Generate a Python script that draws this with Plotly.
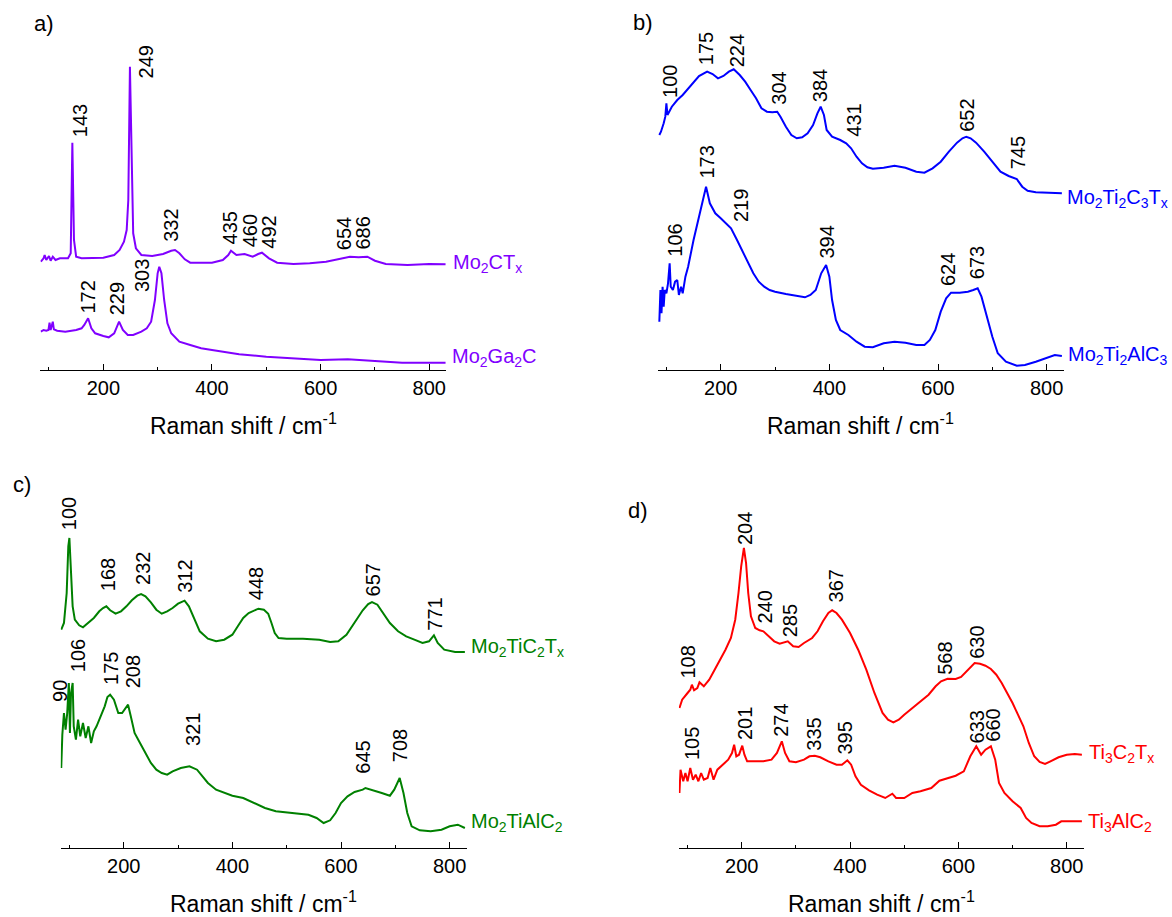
import plotly.graph_objects as go

# ---------------- Raman spectra (shift in cm-1, intensity in a.u. with stacking offset) ----------------
# a) Mo2CTx / Mo2Ga2C
mo2ctx_shift = [85, 90, 92, 95, 100, 103, 107, 112, 120, 135, 140, 143, 146, 150, 160, 180, 200, 220, 230, 238,
                243, 246, 249, 252, 255, 260, 270, 290, 310, 325, 332, 340, 350, 360, 380, 400, 420, 430, 435,
                445, 460, 475, 485, 492, 505, 520, 550, 580, 610, 640, 654, 670, 686, 700, 720, 760, 800, 830]
mo2ctx_int = [108.3, 111.7, 115, 110, 114, 109.3, 113.3, 110, 111.7, 111.7, 116.7, 227.3, 130, 113.3, 111.7,
              111.7, 112.3, 115, 120, 128.3, 140, 170, 303.3, 220, 136.7, 121.7, 115, 114, 116, 119.3, 120,
              116.7, 110.7, 107.3, 107.3, 107.3, 110, 115, 119.3, 115, 116, 113.3, 116, 117.3, 111.7, 107.3,
              106, 106.7, 108.3, 111.7, 113.3, 112.7, 113.3, 109.3, 106, 105, 106, 105.7]

mo2ga2c_shift = [85, 90, 95, 99, 101, 103, 107, 109, 115, 130, 150, 160, 165, 172, 178, 185, 200, 210, 220, 229,
                 236, 245, 255, 270, 280, 288, 295, 300, 303, 307, 312, 318, 325, 340, 360, 380, 400, 450, 500,
                 550, 600, 650, 700, 750, 800, 830]
mo2ga2c_int = [38.3, 40, 39.3, 40, 47.3, 40, 48.3, 40.7, 39.3, 38.3, 40, 41.7, 45, 51.7, 41.7, 36.7, 34, 32.7,
               36.7, 48.3, 40, 35, 35, 38.3, 41.7, 48.3, 70, 96.7, 103.3, 96.7, 70, 46.7, 36.7, 28.3, 25, 21.7,
               20, 15.7, 13.3, 11.7, 10, 10.7, 9.3, 7.3, 7.3, 7.3]

# b) Mo2Ti2C3Tx / Mo2Ti2AlC3
mo2ti2c3tx_shift = [87, 90, 95, 98, 100, 102, 110, 120, 130, 140, 150, 160, 175, 185, 195, 205, 215, 224, 235,
                    245, 255, 265, 275, 285, 295, 304, 310, 320, 330, 340, 350, 360, 370, 378, 384, 390, 395,
                    405, 420, 431, 440, 450, 460, 470, 480, 500, 520, 540, 560, 575, 590, 605, 620, 635, 645,
                    652, 660, 670, 685, 700, 715, 730, 745, 755, 765, 780, 800, 828]
mo2ti2c3tx_int = [235, 238.3, 246.7, 253.3, 266.7, 255, 263.3, 270, 275, 281.7, 288.3, 294, 298.3, 296, 291.7,
                  294, 298.3, 300.7, 295, 288.3, 280, 271.7, 261.7, 258.3, 257.7, 258.3, 253.3, 243.3, 235,
                  231.7, 232.7, 236.7, 245, 256.7, 263.3, 255, 240, 233.3, 230, 226.7, 221.7, 213.3, 206.7,
                  202.7, 201.3, 202.3, 204.3, 202.3, 198.3, 197.3, 201.7, 208.3, 218.3, 227.3, 231.7, 233.3,
                  231.7, 227.3, 218.3, 208.3, 198.3, 194, 191, 183.3, 179.3, 177.7, 177.3, 176.7]

mo2ti2alc3_shift = [87, 89, 91, 93, 95, 97, 100, 103, 106, 108, 112, 116, 120, 123, 127, 130, 135, 140, 150, 160,
                    168, 173, 180, 190, 200, 210, 219, 230, 240, 250, 260, 270, 280, 290, 300, 320, 340, 355,
                    365, 375, 385, 394, 400, 405, 412, 420, 435, 450, 465, 480, 500, 520, 540, 560, 575, 585,
                    595, 605, 615, 624, 640, 655, 665, 673, 680, 690, 700, 710, 725, 745, 760, 780, 800, 815,
                    828]
mo2ti2alc3_int = [48.3, 80, 56.7, 83.3, 63.3, 80, 76.7, 86.7, 106.7, 83.3, 80, 88.3, 90, 75, 83.3, 76.7, 93.3,
                  103.3, 130, 153.3, 173.3, 183.3, 166.7, 156.7, 151.7, 146.7, 141.7, 130, 118.3, 106.7, 96.7,
                  88.3, 83.3, 80, 78.3, 76, 74.3, 72.7, 75, 80, 96.7, 105, 93.3, 70, 50, 40, 35, 28.3, 23.3,
                  22.7, 26.7, 28.3, 27.3, 25, 25, 30, 40, 58.3, 71.7, 77.3, 77.3, 78.3, 80, 81.7, 73.3, 53.3,
                  33.3, 16.7, 8.3, 4.3, 5, 8.3, 11.7, 15, 14]

# c) Mo2TiC2Tx / Mo2TiAlC2
mo2tic2tx_shift = [85, 90, 95, 98, 100, 103, 106, 110, 118, 125, 135, 145, 155, 162, 168, 175, 185, 195, 205,
                   215, 225, 232, 240, 250, 260, 270, 280, 290, 300, 312, 320, 330, 340, 355, 370, 385, 400,
                   410, 420, 430, 440, 448, 458, 466, 472, 478, 485, 500, 530, 560, 580, 595, 610, 625, 640,
                   650, 657, 667, 680, 690, 705, 720, 735, 750, 762, 771, 778, 790, 810, 828]
mo2tic2tx_int = [218.3, 225, 255, 301.7, 310, 278.3, 241.7, 228.3, 222.7, 220.7, 225, 230, 236.7, 240, 241.7,
                 237.7, 234.3, 236.7, 241.7, 247.7, 252.3, 254, 251.7, 245.7, 238.3, 234.3, 236.7, 240, 244.3,
                 247.3, 241.7, 228.3, 216.7, 209.3, 206.7, 208.3, 213.3, 221.7, 230, 235, 237.7, 239.3, 238.3,
                 234.3, 225, 215, 210, 209.3, 209.3, 208.3, 206, 206.7, 213.3, 225, 237.7, 244, 246, 243.3,
                 233.3, 225, 216.7, 211.7, 208.3, 205, 206.7, 212.7, 205, 198.3, 196, 196]

mo2tialc2_shift = [85, 87, 90, 93, 96, 99, 101, 103, 106, 108, 112, 116, 120, 125, 130, 135, 140, 145, 150, 158,
                   165, 170, 175, 182, 190, 197, 203, 208, 213, 220, 230, 240, 250, 260, 270, 280, 290, 305,
                   321, 335, 345, 355, 370, 385, 400, 420, 440, 460, 480, 500, 520, 540, 555, 568, 580, 590,
                   600, 612, 625, 640, 645, 660, 675, 690, 698, 708, 715, 722, 730, 745, 765, 785, 800, 815, 828]
mo2tialc2_int = [80, 113.3, 135, 118.3, 135, 165, 115, 155, 165, 121.7, 108.3, 128.3, 111.7, 125, 110, 121.7,
                 105, 116.7, 121.7, 131.7, 141.7, 151, 153.3, 148.3, 135, 135, 140, 143.3, 131.7, 115, 105, 95,
                 85, 78.3, 75, 73.3, 76.7, 80, 81.7, 78.3, 71.7, 65, 58.3, 55, 52.3, 50, 45, 40, 36.7, 35.7,
                 35, 33.3, 30, 25, 27.7, 35, 45, 51.7, 56, 58.3, 60, 57.7, 55, 52.3, 58.3, 70, 55, 35, 21.7,
                 17.7, 16.7, 18.3, 21.7, 23.3, 20]

# d) Ti3C2Tx / Ti3AlC2
ti3c2tx_shift = [85, 90, 100, 105, 108, 112, 118, 122, 130, 140, 150, 160, 170, 180, 188, 194, 199, 204, 208,
                 212, 217, 225, 233, 240, 250, 260, 270, 285, 295, 305, 315, 330, 340, 350, 360, 367, 375, 385,
                 400, 415, 430, 445, 460, 470, 480, 490, 500, 515, 530, 545, 558, 568, 580, 595, 605, 615, 625,
                 630, 640, 650, 660, 670, 680, 690, 700, 710, 720, 730, 740, 750, 760, 770, 785, 800, 815, 828]
ti3c2tx_int = [140, 148.3, 155, 158.3, 163.3, 157.7, 160, 165.7, 161.7, 168.3, 178.3, 188.3, 198.3, 210, 228.3,
               255, 281.7, 300, 285, 255, 231.7, 220, 217.7, 216.7, 211.7, 206.7, 204.3, 206.7, 201.7, 201,
               205, 210, 216.7, 226.7, 235, 237.7, 235, 228.3, 215, 198.3, 178.3, 155, 135, 128.3, 125.7,
               128.3, 133.3, 140, 146.7, 153.3, 161.7, 166.7, 169.3, 169, 171, 176.7, 182.3, 185, 184.3, 182.3,
               179, 173.3, 165, 155, 145, 133.3, 121.7, 105, 91.7, 86, 84, 86.7, 90.7, 93.3, 94, 93.3]

ti3alc2_shift = [85, 87, 92, 96, 100, 105, 110, 115, 120, 125, 130, 137, 142, 148, 155, 165, 175, 182, 186, 190,
                 195, 201, 205, 210, 225, 240, 255, 265, 274, 280, 288, 300, 315, 325, 335, 345, 360, 375, 385,
                 395, 402, 410, 420, 435, 450, 465, 478, 485, 500, 515, 530, 550, 565, 580, 595, 610, 622, 633,
                 642, 650, 660, 668, 675, 685, 700, 715, 725, 735, 750, 765, 780, 790, 805, 828]
ti3alc2_int = [55, 78.3, 66.7, 75, 66.7, 80, 68.3, 73.3, 66.7, 75, 68.3, 70, 80, 68.3, 78.3, 83.3, 88.3, 95,
               103.3, 91.7, 93.3, 102.3, 93.3, 86.7, 86.7, 86.7, 88.3, 95, 106.7, 95, 86.7, 85.7, 88.3, 91.7,
               92.3, 90.7, 86.7, 83.3, 83.3, 87.7, 83.3, 71.7, 63.3, 57.7, 53.3, 50, 54.3, 50, 50, 55, 56.7, 60,
               67.3, 70, 72.3, 76.7, 91.7, 101.7, 93.3, 98.3, 101.7, 88.3, 65, 55, 46.7, 40, 30, 25, 21.7, 21.7,
               23.3, 26.7, 26.7, 26.7]

# ---------------- peak assignments (cm-1) ----------------
peaks_mo2ctx = [143, 249, 332, 435, 460, 492, 654, 686]
peaks_mo2ga2c = [172, 229, 303]
peaks_mo2ti2c3tx = [100, 175, 224, 304, 384, 431, 652, 745]
peaks_mo2ti2alc3 = [106, 173, 219, 394, 624, 673]
peaks_mo2tic2tx = [100, 168, 232, 312, 448, 657, 771]
peaks_mo2tialc2 = [90, 106, 175, 208, 321, 645, 708]
peaks_ti3c2tx = [108, 204, 240, 285, 367, 568, 630]
peaks_ti3alc2 = [105, 201, 274, 335, 395, 633, 660]

# label placement: height of the label foot (a.u.) and sideways nudge (px)
lab_mo2ctx = ([231.7, 291, 126.7, 125, 121.7, 120.7, 119.3, 119.3], [7, 16, -4, -1, 5, 7, -6, -4])
lab_mo2ga2c = ([55, 53.3, 76.7], [-1, -2, -17])
lab_mo2ti2c3tx = ([271, 304, 302, 264, 267, 232, 237, 200], [3, -1.5, 3, 1, -1, 7, 0, 1])
lab_mo2ti2alc3 = ([112, 190, 147, 110, 83, 90], [4.5, 0, 9.5, 0, -3.5, -1])
lab_mo2tic2tx = ([316.7, 255.7, 261.7, 254.3, 246.7, 251, 216.7], [-1, 1, 2, 1, -3, 1, 1])
lab_mo2tialc2 = ([145, 175, 161.7, 158.3, 101, 73.3, 85], [-4, 5, 1, 5, 3, -2, 0])
lab_ti3c2tx = ([168.3, 302.3, 223.3, 210, 244.3, 171.7, 188.3], [-3.5, 1, 2, 2, 4, 4, 3])
lab_ti3alc2 = ([86.7, 106.7, 110, 96.7, 92.3, 103.3, 105.7], [2, 3, -1.5, -1, -2, 1, 2])

FONT = "Arial, Liberation Sans, sans-serif"
W, H = 1172, 917

panels = [
    dict(ax="x", ay="y", letter="a)", color="#8000ff", xdom=(40.3, 446.1), ybot=370, ytop=30, ymax=340,
         letter_pos=(44, 23),
         series=[(mo2ctx_shift, mo2ctx_int, peaks_mo2ctx, lab_mo2ctx, "Mo<sub>2</sub>CT<sub>x</sub>", 107, 6),
                 (mo2ga2c_shift, mo2ga2c_int, peaks_mo2ga2c, lab_mo2ga2c,
                  "Mo<sub>2</sub>Ga<sub>2</sub>C", 13, 5)]),
    dict(ax="x2", ay="y2", letter="b)", color="#0000ff", xdom=(657.7, 1063.5), ybot=370, ytop=30, ymax=340,
         letter_pos=(643, 22),
         series=[(mo2ti2c3tx_shift, mo2ti2c3tx_int, peaks_mo2ti2c3tx, lab_mo2ti2c3tx,
                  "Mo<sub>2</sub>Ti<sub>2</sub>C<sub>3</sub>T<sub>x</sub>", 172, 2),
                 (mo2ti2alc3_shift, mo2ti2alc3_int, peaks_mo2ti2alc3, lab_mo2ti2alc3,
                  "Mo<sub>2</sub>Ti<sub>2</sub>AlC<sub>3</sub>", 15, 3)]),
    dict(ax="x3", ay="y3", letter="c)", color="#008000", xdom=(60.7, 466.5), ybot=848, ytop=490, ymax=358,
         letter_pos=(22, 485),
         series=[(mo2tic2tx_shift, mo2tic2tx_int, peaks_mo2tic2tx, lab_mo2tic2tx,
                  "Mo<sub>2</sub>TiC<sub>2</sub>T<sub>x</sub>", 201, 3.5),
                 (mo2tialc2_shift, mo2tialc2_int, peaks_mo2tialc2, lab_mo2tialc2,
                  "Mo<sub>2</sub>TiAlC<sub>2</sub>", 26, 3.5)]),
    dict(ax="x4", ay="y4", letter="d)", color="#ff0000", xdom=(678.9, 1083.5), ybot=848, ytop=490, ymax=358,
         letter_pos=(638, 510),
         series=[(ti3c2tx_shift, ti3c2tx_int, peaks_ti3c2tx, lab_ti3c2tx,
                  "Ti<sub>3</sub>C<sub>2</sub>T<sub>x</sub>", 95, 4),
                 (ti3alc2_shift, ti3alc2_int, peaks_ti3alc2, lab_ti3alc2,
                  "Ti<sub>3</sub>AlC<sub>2</sub>", 26, 3.5)]),
]

XRANGE = [84, 831]

fig = go.Figure()
annotations = []
layout_axes = {}

for p in panels:
    xname = "xaxis" + p["ax"][1:]
    yname = "yaxis" + p["ay"][1:]
    layout_axes[xname] = dict(
        domain=[p["xdom"][0] / W, p["xdom"][1] / W], range=XRANGE, anchor=p["ay"],
        showline=True, linecolor="black", linewidth=1, showgrid=False, zeroline=False,
        ticks="inside", ticklen=6, tickwidth=1, tickcolor="black",
        tickvals=[200, 400, 600, 800], ticktext=["200", "400", "600", "800"],
        minor=dict(tickvals=[100, 300, 500, 700], ticks="inside", ticklen=3, tickwidth=1,
                   tickcolor="black", showgrid=False),
        tickfont=dict(family=FONT, size=20, color="black"),
    )
    layout_axes[yname] = dict(
        domain=[1 - p["ybot"] / H, 1 - p["ytop"] / H], range=[0, p["ymax"]], anchor=p["ax"],
        visible=False,
    )

    for xs, ys, peaks, (lab_y, lab_dx), name, name_y, name_dx in p["series"]:
        fig.add_trace(go.Scatter(
            x=xs, y=ys, mode="lines", xaxis=p["ax"], yaxis=p["ay"],
            line=dict(color=p["color"], width=2), showlegend=False, hoverinfo="skip",
        ))
        for v, ly, dx in zip(peaks, lab_y, lab_dx):
            annotations.append(dict(
                x=v, y=ly, xref=p["ax"], yref=p["ay"], text=str(v), showarrow=False,
                textangle=-90, xanchor="center", yanchor="bottom", xshift=dx,
                font=dict(family=FONT, size=20, color="black"), borderpad=0,
            ))
        annotations.append(dict(
            x=XRANGE[1], y=name_y, xref=p["ax"], yref=p["ay"], text=name, showarrow=False,
            xanchor="left", yanchor="middle", xshift=name_dx,
            font=dict(family=FONT, size=20, color=p["color"]), borderpad=0,
        ))

    # panel letter
    lx, ly = p["letter_pos"]
    annotations.append(dict(
        x=lx / W, y=1 - ly / H, xref="paper", yref="paper", text=p["letter"], showarrow=False,
        xanchor="center", yanchor="middle", font=dict(family=FONT, size=22, color="black"),
    ))
    # axis title
    annotations.append(dict(
        x=(p["xdom"][0] + p["xdom"][1]) / 2 / W, y=1 - (p["ybot"] + 54) / H, xref="paper", yref="paper",
        text="Raman shift / cm<sup>-1</sup>", showarrow=False, xanchor="center", yanchor="middle",
        font=dict(family=FONT, size=23, color="black"),
    ))

fig.update_layout(
    width=W, height=H, margin=dict(l=0, r=0, t=0, b=0),
    paper_bgcolor="white", plot_bgcolor="white",
    annotations=annotations, showlegend=False,
    **layout_axes,
)

fig.write_html("out.html")
